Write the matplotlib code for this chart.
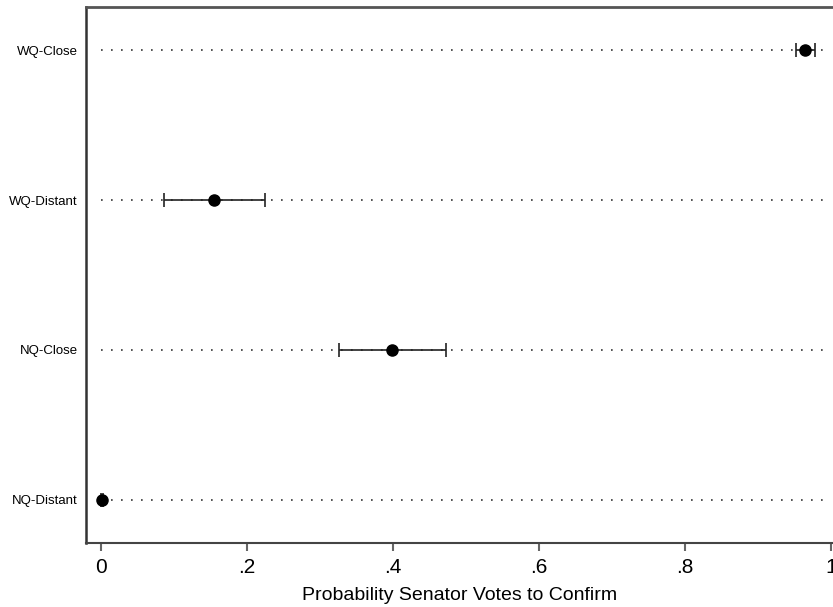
import numpy as np
import matplotlib.pyplot as plt

plt.rcParams['font.family'] = ['Liberation Sans', 'DejaVu Sans']

# Datos
grupos = ["WQ-Close", "WQ-Distant", "NQ-Close", "NQ-Distant"]
prob_media = [0.965, 0.155, 0.399, 0.001]
ic_inferior = [0.952, 0.086, 0.326, 0.000]
ic_superior = [0.978, 0.224, 0.472, 0.003]
marcas_x = [0, 0.2, 0.4, 0.6, 0.8, 1.0]
etiquetas_x = ["0", ".2", ".4", ".6", ".8", "1"]

fig = plt.figure(figsize=(8.33, 6.07), dpi=100)
ax = fig.add_axes([86 / 833, 1 - 543 / 607, 1 - 86 / 833, (543 - 7) / 607])

posiciones = np.arange(len(grupos))[::-1] + 1

for y in posiciones:
    ax.plot([0, 0.99], [y, y], linestyle=(0, (1, 5)), color="#333333", linewidth=1.2, zorder=1)

media = np.array(prob_media)
errores = [media - np.array(ic_inferior), np.array(ic_superior) - media]
ax.errorbar(media, posiciones, xerr=errores, fmt="o", color="black", markersize=8,
            ecolor="#222222", elinewidth=1.2, capsize=5, capthick=1.2, zorder=3)

ax.set_xlim(-0.0205, 1.0027)
ax.set_ylim(0.713, 4.287)
ax.set_yticks(posiciones)
ax.set_yticklabels(grupos, fontsize=9.5)
ax.tick_params(axis="y", length=0, pad=6)
ax.set_xticks(marcas_x)
ax.set_xticklabels(etiquetas_x, fontsize=15)
ax.tick_params(axis="x", direction="out", length=6, width=1.5, color="#666666", pad=5)
ax.set_xlabel("Probability Senator Votes to Confirm", fontsize=14, labelpad=7)

ax.spines["right"].set_visible(False)
ax.spines["top"].set_color("#555555")
ax.spines["top"].set_linewidth(2)
ax.spines["left"].set_color("#333333")
ax.spines["left"].set_linewidth(1.8)
ax.spines["bottom"].set_color("#444444")
ax.spines["bottom"].set_linewidth(1.5)

fig.savefig("out.png", dpi=100)
